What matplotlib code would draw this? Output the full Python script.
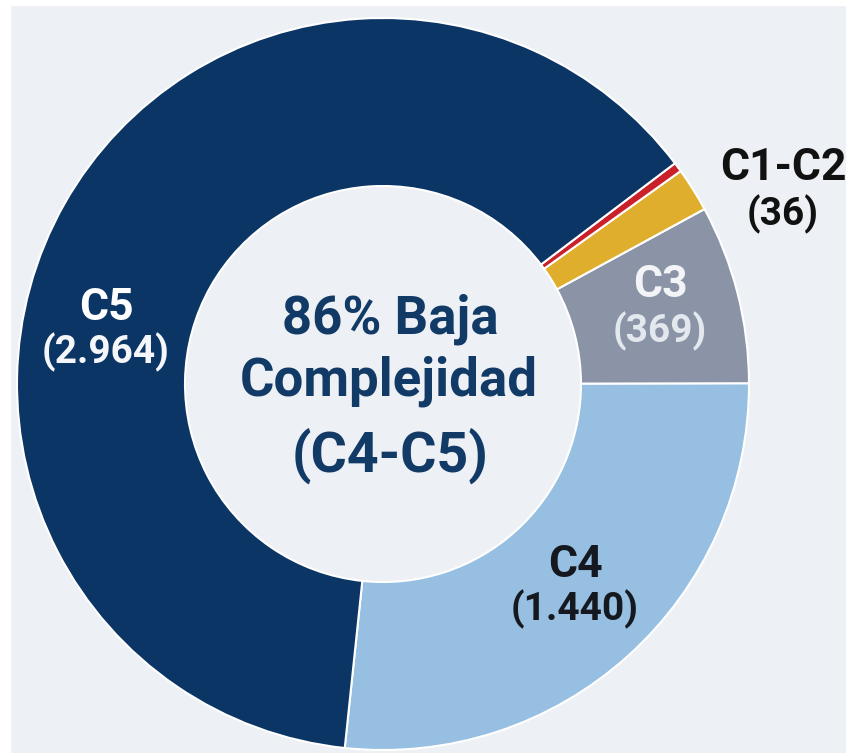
import matplotlib.pyplot as plt
from matplotlib.patches import Rectangle

# slice shares as drawn (percent of the ring), counter-clockwise from C4
segments = ["C4", "C3", "C2", "C1", "C5"]
shares = [26.7, 7.9, 1.95, 0.42, 63.03]
colors = ["#96bfe1", "#8a94a6", "#dfae2d", "#c9202a", "#0b3565"]

# label texts shown on the chart
label_names = ["C5", "C4", "C3", "C1-C2"]
label_counts = ["(2.964)", "(1.440)", "(369)", "(36)"]
center_lines = ["86% Baja", "Complejidad", "(C4-C5)"]

W, H = 846, 753
bg = "#edf0f4"

fig = plt.figure(figsize=(W / 100, H / 100), dpi=100, facecolor=bg)
ax = fig.add_axes([0, 0, 1, 1])
ax.set_facecolor(bg)

cx, cy = 383, H - 384
R, r = 366, 198

ax.pie(shares,
       colors=colors,
       startangle=-96,
       counterclock=True,
       center=(cx, cy),
       radius=R,
       wedgeprops=dict(width=R - r, edgecolor="white", linewidth=1.5))

ax.set_xlim(0, W)
ax.set_ylim(0, H)
ax.set_aspect("equal")
ax.axis("off")

# thin white margins at the left and top edge of the picture
ax.add_patch(Rectangle((0, 0), 10, H, color="white", zorder=5))
ax.add_patch(Rectangle((0, H - 5), W, 5, color="white", zorder=5))

font = "Roboto"
navy = "#123a66"

# centre text
ax.text(cx + 7, H - 333, center_lines[0], ha="center", va="baseline",
        fontsize=38, fontweight="bold", color=navy, family=font)
ax.text(cx + 6, H - 395, center_lines[1], ha="center", va="baseline",
        fontsize=38, fontweight="bold", color=navy, family=font)
ax.text(cx + 7, H - 472, center_lines[2], ha="center", va="baseline",
        fontsize=40, fontweight="bold", color=navy, family=font)

# slice labels: (x, name baseline, count baseline, name colour, count colour)
spots = [
    (106, 320, 363, "white", "#f4f6f9"),
    (575, 577, 620, "#15191f", "#15191f"),
    (660, 297, 342, "#f2f4f7", "#e3e7ee"),
    (783, 180, 225, "#111111", "#111111"),
]
for name, count, (x, yn, yc, c1, c2) in zip(label_names, label_counts, spots):
    ax.text(x, H - yn, name, ha="center", va="baseline", fontsize=32,
            fontweight="bold", color=c1, family=font)
    ax.text(x, H - yc, count, ha="center", va="baseline", fontsize=28,
            fontweight="semibold", color=c2, family=font)

fig.savefig("out.png", dpi=100, facecolor=bg)
